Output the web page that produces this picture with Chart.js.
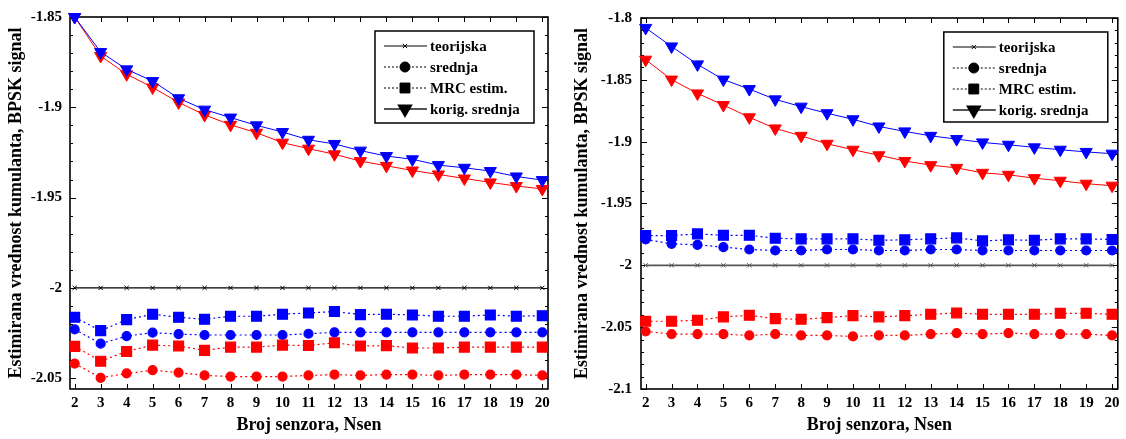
<!DOCTYPE html>
<html>
<head>
<meta charset="utf-8">
<script src="https://cdn.jsdelivr.net/npm/chart.js@4.4.1/dist/chart.umd.min.js"></script>
<style>
  html, body { margin: 0; padding: 0; background: #fff; }
  #wrap { position: relative; width: 1126px; height: 439px; }
  canvas { position: absolute; top: 0; }
</style>
</head>
<body>
<div id="wrap">
  <canvas id="left" width="560" height="439" style="left:0"></canvas>
  <canvas id="right" width="566" height="439" style="left:560px"></canvas>
</div>
<script>
const NSEN = [2, 3, 4, 5, 6, 7, 8, 9, 10, 11, 12, 13, 14, 15, 16, 17, 18, 19, 20]
const LEGEND_LABELS = ['teorijska', 'srednja', 'MRC estim.', 'korig. srednja']
const X_TITLE = 'Broj senzora, Nsen'
const Y_TITLE = 'Estimirana vrednost kumulanta, BPSK signal'
const LEFT_Y_TICKS = [-2.05, -2, -1.95, -1.9, -1.85]
const RIGHT_Y_TICKS = [-2.1, -2.05, -2, -1.95, -1.9, -1.85, -1.8]

const TEORIJSKA = [-2, -2, -2, -2, -2, -2, -2, -2, -2, -2, -2, -2, -2, -2, -2, -2, -2, -2, -2]

// left panel
const leftKorigBlue = [-1.85, -1.8694, -1.879, -1.8855, -1.895, -1.9013, -1.9057, -1.910, -1.9137, -1.918, -1.9203, -1.924, -1.927, -1.9288, -1.932, -1.9335, -1.9353, -1.9383, -1.9403]
const leftKorigRed = [-1.85, -1.8716, -1.8817, -1.889, -1.8973, -1.9042, -1.9097, -1.9141, -1.9196, -1.9229, -1.926, -1.9298, -1.9324, -1.935, -1.9372, -1.9394, -1.9416, -1.9436, -1.9452]
const leftMrcBlue = [-2.0163, -2.0237, -2.0176, -2.0146, -2.0163, -2.0174, -2.0157, -2.0157, -2.0146, -2.0139, -2.0131, -2.0148, -2.0146, -2.015, -2.0157, -2.0157, -2.015, -2.0157, -2.0154]
const leftSrednjaBlue = [-2.023, -2.0309, -2.0267, -2.0248, -2.0256, -2.0261, -2.0261, -2.0261, -2.0261, -2.0254, -2.0246, -2.0246, -2.0246, -2.0246, -2.0246, -2.0246, -2.0246, -2.0246, -2.0246]
const leftMrcRed = [-2.0324, -2.0406, -2.0352, -2.0317, -2.0322, -2.0346, -2.0328, -2.0328, -2.0317, -2.0319, -2.0304, -2.0322, -2.032, -2.0333, -2.0333, -2.0328, -2.0328, -2.0328, -2.0328]
const leftSrednjaRed = [-2.0419, -2.0498, -2.0474, -2.0456, -2.0469, -2.0485, -2.0491, -2.0491, -2.0491, -2.0485, -2.048, -2.0485, -2.048, -2.048, -2.0485, -2.048, -2.048, -2.048, -2.0485]

// right panel
const rightKorigBlue = [-1.808, -1.823, -1.8375, -1.8498, -1.8575, -1.8658, -1.8717, -1.877, -1.8819, -1.8877, -1.8917, -1.8953, -1.8979, -1.9006, -1.9025, -1.9046, -1.9065, -1.9083, -1.9097]
const rightKorigRed = [-1.8337, -1.8498, -1.861, -1.8704, -1.8803, -1.8893, -1.8953, -1.9017, -1.9065, -1.911, -1.9156, -1.919, -1.9212, -1.9252, -1.9268, -1.9295, -1.9316, -1.934, -1.9356]
const rightMrcBlue = [-1.9759, -1.9759, -1.9746, -1.9757, -1.9757, -1.9781, -1.9786, -1.9786, -1.9786, -1.9797, -1.9794, -1.9786, -1.9778, -1.9802, -1.9794, -1.9797, -1.9786, -1.9786, -1.9791]
const rightSrednjaBlue = [-1.9791, -1.9826, -1.9834, -1.9853, -1.9872, -1.988, -1.988, -1.9872, -1.9872, -1.988, -1.988, -1.9872, -1.9872, -1.988, -1.988, -1.988, -1.988, -1.988, -1.988]
const rightMrcRed = [-2.0452, -2.0452, -2.0444, -2.0417, -2.0404, -2.0431, -2.0436, -2.0423, -2.0407, -2.0417, -2.0407, -2.0396, -2.0385, -2.0396, -2.0396, -2.0396, -2.0388, -2.0388, -2.0396]
const rightSrednjaRed = [-2.0535, -2.0556, -2.0556, -2.0556, -2.0567, -2.0556, -2.0567, -2.0567, -2.0575, -2.0567, -2.0567, -2.0556, -2.0548, -2.0556, -2.0548, -2.0556, -2.0556, -2.0556, -2.0567]

const BLUE = '#0000ff'
const RED = '#ff0000'
const FONT = '"Liberation Serif", "Times New Roman", serif'

const toPoints = (values) => NSEN.map((n, i) => ({ x: n, y: values[i] }))

function srednjaSet (values, color) {
  return {
    data: toPoints(values), borderColor: color, backgroundColor: color,
    borderWidth: 1.2, borderDash: [2, 3], pointStyle: 'circle', pointRadius: 4.5, order: 2
  }
}
function mrcSet (values, color) {
  return {
    data: toPoints(values), borderColor: color, backgroundColor: color,
    borderWidth: 1.2, borderDash: [2, 3], pointStyle: 'rect', pointRadius: 7, order: 2
  }
}
function korigSet (values, color) {
  return {
    data: toPoints(values), borderColor: color, backgroundColor: color,
    borderWidth: 1, pointStyle: 'triangle', rotation: 180, pointRadius: 7, order: 2
  }
}
function teorijskaSet (color, width) {
  return {
    data: toPoints(TEORIJSKA), borderColor: color, backgroundColor: color,
    borderWidth: width, pointStyle: 'crossRot', pointRadius: 3, pointBorderWidth: 1, order: 3
  }
}

// frame + inward ticks (major and minor) drawn from the scales
const frameTicks = {
  id: 'frameTicks',
  beforeDatasetsDraw (chart) {
    const { ctx, chartArea: a, scales: { x, y } } = chart
    ctx.save()
    ctx.strokeStyle = '#000'
    ctx.lineWidth = 1
    ctx.beginPath()
    NSEN.forEach(n => {
      const px = Math.round(x.getPixelForValue(n)) + 0.5
      ctx.moveTo(px, a.top); ctx.lineTo(px, a.top + 5)
      ctx.moveTo(px, a.bottom); ctx.lineTo(px, a.bottom - 5)
    })
    const k0 = Math.ceil(y.min * 100 - 1e-6)
    const k1 = Math.floor(y.max * 100 + 1e-6)
    for (let k = k0; k <= k1; k++) {
      const py = Math.round(y.getPixelForValue(k / 100)) + 0.5
      const len = k % 5 === 0 ? 6 : 3
      ctx.moveTo(a.left, py); ctx.lineTo(a.left + len, py)
      ctx.moveTo(a.right, py); ctx.lineTo(a.right - len, py)
    }
    ctx.stroke()
    ctx.lineWidth = 1.6
    ctx.strokeRect(a.left, a.top, a.right - a.left, a.bottom - a.top)
    ctx.restore()
  }
}

// boxed legend inside the plot area
const boxLegend = {
  id: 'boxLegend',
  afterDraw (chart, args, opts) {
    const { ctx, chartArea: a } = chart
    const left = a.right - opts.right - opts.width
    const top = a.top + opts.top
    ctx.save()
    ctx.fillStyle = '#fff'
    ctx.fillRect(left, top, opts.width, opts.height)
    ctx.strokeStyle = '#000'
    ctx.lineWidth = 1.5
    ctx.strokeRect(left, top, opts.width, opts.height)
    const styles = [
      { dash: [], color: '#000', lw: 1, point: 'crossRot', r: 3 },
      { dash: [2, 2], color: '#000', lw: 1, point: 'circle', r: 5 },
      { dash: [2, 2], color: '#000', lw: 1, point: 'rect', r: 7 },
      { dash: [], color: '#555', lw: 2, point: 'triangle', r: 7, rot: 180 }
    ]
    LEGEND_LABELS.forEach((label, i) => {
      const s = styles[i]
      const cy = top + 15 + i * 21
      ctx.setLineDash(s.dash)
      ctx.strokeStyle = s.color
      ctx.lineWidth = s.lw
      ctx.beginPath()
      ctx.moveTo(left + 9, cy); ctx.lineTo(left + 52, cy)
      ctx.stroke()
      ctx.setLineDash([])
      ctx.fillStyle = '#000'
      ctx.strokeStyle = '#000'
      Chart.helpers.drawPoint(ctx, { pointStyle: s.point, radius: s.r, rotation: s.rot || 0, borderWidth: 1 }, left + 30, cy)
      ctx.fillStyle = '#000'
      ctx.font = 'bold 15px ' + FONT
      ctx.textBaseline = 'middle'
      ctx.fillText(label, left + 55, cy + 1)
    })
    ctx.restore()
  }
}

function makeChart (canvas, cfg) {
  return new Chart(canvas.getContext('2d'), {
    type: 'line',
    data: { datasets: cfg.datasets },
    plugins: [frameTicks, boxLegend],
    options: {
      responsive: false,
      animation: false,
      clip: false,
      layout: { padding: cfg.padding },
      elements: { line: { tension: 0 } },
      plugins: {
        legend: { display: false },
        tooltip: { enabled: false },
        boxLegend: cfg.legend
      },
      scales: {
        x: {
          type: 'linear',
          min: 1.82,
          max: 20.22,
          afterBuildTicks: (s) => { s.ticks = NSEN.map(v => ({ value: v })) },
          afterFit: (s) => { s.height = 50 },
          grid: { display: false, drawTicks: false },
          border: { display: false },
          ticks: { color: '#000', font: { family: FONT, size: 15, weight: 'bold' }, padding: 5, maxRotation: 0, autoSkip: false },
          title: { display: true, text: X_TITLE, color: '#000', font: { family: FONT, size: 18, weight: 'bold' }, padding: { top: 0, bottom: 3 } }
        },
        y: {
          min: cfg.yMin,
          max: cfg.yMax,
          afterBuildTicks: (s) => { s.ticks = cfg.yTicks.map(v => ({ value: v })) },
          afterFit: (s) => { s.width = cfg.yWidth },
          grid: { display: false, drawTicks: false },
          border: { display: false },
          ticks: { color: '#000', font: { family: FONT, size: 15, weight: 'bold' }, padding: cfg.tickPad, callback: (v) => String(Number(v.toFixed(2))) },
          title: { display: true, text: Y_TITLE, color: '#000', font: { family: FONT, size: 18, weight: 'bold' }, padding: { top: cfg.titlePad, bottom: 0 } }
        }
      }
    }
  })
}

makeChart(document.getElementById('left'), {
  datasets: [
    teorijskaSet('#000', 1.2),
    srednjaSet(leftSrednjaRed, RED),
    mrcSet(leftMrcRed, RED),
    srednjaSet(leftSrednjaBlue, BLUE),
    mrcSet(leftMrcBlue, BLUE),
    korigSet(leftKorigBlue, BLUE),
    korigSet(leftKorigRed, RED)
  ],
  yMin: -2.056, yMax: -1.85, yTicks: LEFT_Y_TICKS,
  yWidth: 70, tickPad: 8, titlePad: 6,
  padding: { left: 0, top: 14, right: 12, bottom: 0 },
  legend: { right: 14, top: 14, width: 159, height: 92 }
})

makeChart(document.getElementById('right'), {
  datasets: [
    teorijskaSet('#555', 1.8),
    srednjaSet(rightSrednjaRed, RED),
    mrcSet(rightMrcRed, RED),
    srednjaSet(rightSrednjaBlue, BLUE),
    mrcSet(rightMrcBlue, BLUE),
    korigSet(rightKorigBlue, BLUE),
    korigSet(rightKorigRed, RED)
  ],
  yMin: -2.1, yMax: -1.8, yTicks: RIGHT_Y_TICKS,
  yWidth: 81, tickPad: 9, titlePad: 12,
  padding: { left: 0, top: 14, right: 6, bottom: 0 },
  legend: { right: 10, top: 14, width: 164, height: 90 }
})
</script>
</body>
</html>
